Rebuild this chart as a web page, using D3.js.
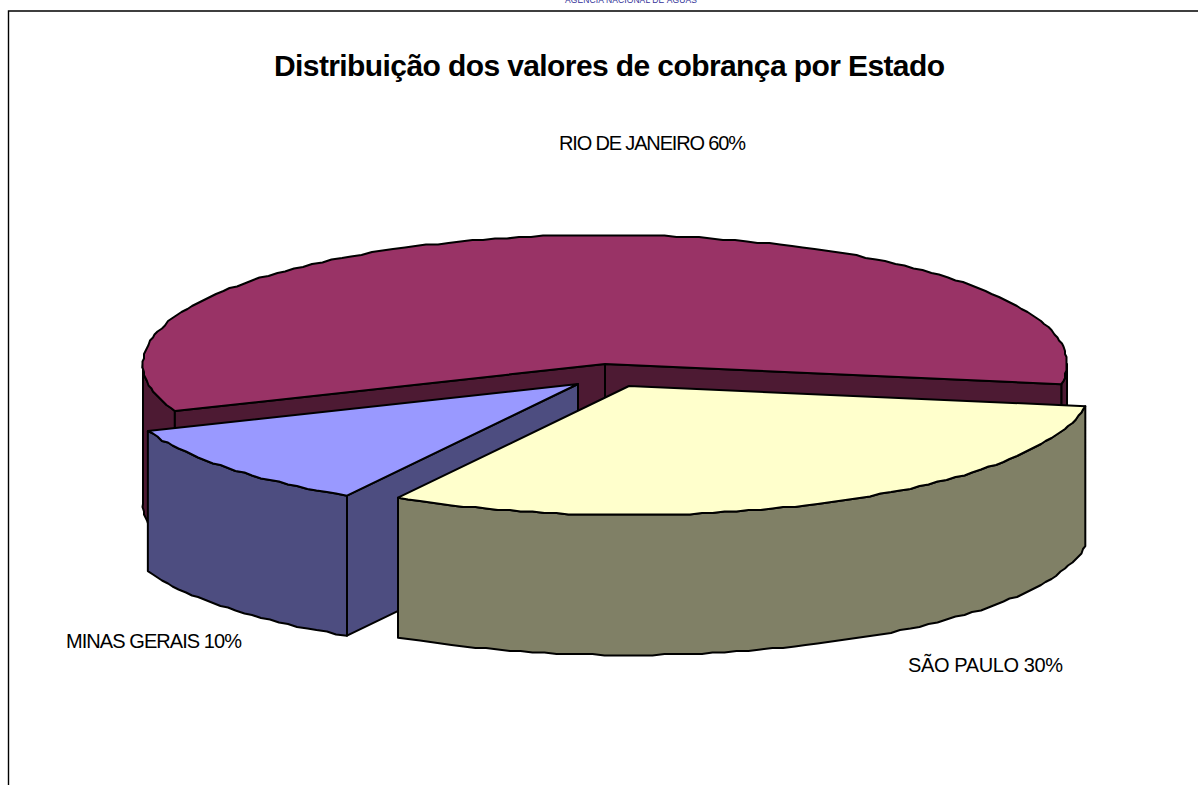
<!DOCTYPE html>
<html>

<head>
    <meta charset="utf-8">
    <title>Distribuição dos valores de cobrança por Estado</title>
    <style>
    body {
        margin: 0;
        background: #fff;
        overflow: hidden;
    }

    svg text {
        font-family: "Liberation Sans", Arial, sans-serif;
        fill: #000;
    }

    path.face {
        stroke: #000;
        stroke-width: 2;
        stroke-linejoin: round;
    }
    </style>
</head>

<body>
    <svg id="chart" width="1198" height="785"></svg>
    <script src="https://d3js.org/d3.v7.min.js"></script>
    <script>
    var estados = ['SÃO PAULO', 'MINAS GERAIS', 'RIO DE JANEIRO'];
    var percentuais = [30, 10, 60];

    var svg = d3.select('svg#chart');

    // colours of top and side of each slice
    var topo = { 'SÃO PAULO': '#FFFFCC', 'MINAS GERAIS': '#9999FF', 'RIO DE JANEIRO': '#993366' };
    var lado = { 'SÃO PAULO': '#808066', 'MINAS GERAIS': '#4D4D80', 'RIO DE JANEIRO': '#4D1A33' };

    // pie centre per slice (two of them are pulled out)
    var centro = {
        'SÃO PAULO': [629, 386],
        'MINAS GERAIS': [578, 384],
        'RIO DE JANEIRO': [605, 364]
    };

    var rotulo = {
        'SÃO PAULO': [908, 672, 155],
        'MINAS GERAIS': [66, 648, 176],
        'RIO DE JANEIRO': [559, 150, 187]
    };

    var rx = 462, ry = 129, depth = 140, grid = 1.5;

    // the old 3d pie squeezes the angles a bit, so pie angles go through this
    var deg = d3.scaleLinear()
        .domain([0, 108, 144, 360])
        .range([9, 120, 158.6, 369]);

    var pie = d3.pie().sort(null).value(function(d) { return d.valor; })
        .startAngle(0).endAngle(2 * Math.PI);

    var fatias = pie(estados.map(function(e, i) { return { estado: e, valor: percentuais[i] }; }));

    var line = d3.line();

    function ponto(c, t, dy) {
        var r = t * Math.PI / 180;
        return [c[0] + rx * Math.cos(r), c[1] + ry * Math.sin(r) + (dy || 0)];
    }

    // arc as a coarse polyline, snapped to a grid like the low-res original
    function arco(c, t0, t1, dy) {
        var n = Math.max(2, Math.round(Math.abs(t1 - t0) / 1.5));
        return d3.range(n + 1).map(function(i) {
            var p = ponto(c, t0 + (t1 - t0) * i / n, dy);
            if (i == 0 || i == n) return p;
            return [Math.round(p[0] / grid) * grid, Math.round(p[1] / grid) * grid];
        });
    }

    function face(g, pts, cor) {
        g.append('path')
            .attr('class', 'face')
            .attr('d', line(pts) + 'Z')
            .attr('fill', cor);
    }

    function parede(g, c, t0, t1, cor) {
        face(g, arco(c, t0, t1).concat(arco(c, t1, t0, depth)), cor);
    }

    function corte(g, c, t, cor) {
        var p = ponto(c, t);
        face(g, [c, p, [p[0], p[1] + depth], [c[0], c[1] + depth]], cor);
    }

    function desenha(f) {
        var e = f.data.estado;
        var c = centro[e];
        var t0 = deg(f.startAngle * 180 / Math.PI);
        var t1 = deg(f.endAngle * 180 / Math.PI);
        var g = svg.append('g').attr('class', 'fatia');

        if (e == 'RIO DE JANEIRO') {
            // only the ends of the back slice have a visible rim
            parede(g, c, t0, 180, lado[e]);
            parede(g, c, 360, t1, lado[e]);
            corte(g, c, t0, lado[e]);
            corte(g, c, t1, lado[e]);
        } else if (e == 'MINAS GERAIS') {
            corte(g, c, t0, lado[e]);
            parede(g, c, t0, t1, lado[e]);
        } else {
            parede(g, c, t0, t1, lado[e]);
        }
        face(g, [c].concat(arco(c, t0, t1)), topo[e]);
    }

    // back to front
    desenha(fatias[2]);
    desenha(fatias[1]);
    desenha(fatias[0]);

    // page frame
    svg.append('path')
        .attr('d', 'M8.5,785V11H1198')
        .attr('fill', 'none')
        .attr('stroke', '#000')
        .attr('stroke-width', 1.4);

    // header of the page behind the chart, cut by the top edge in the original too
    svg.append('text')
        .attr('x', 631)
        .attr('y', 3)
        .attr('text-anchor', 'middle')
        .attr('textLength', 132)
        .style('font-size', '8.5px')
        .style('fill', '#333399')
        .text('AGÊNCIA NACIONAL DE ÁGUAS');

    svg.append('text')
        .attr('x', 274)
        .attr('y', 76)
        .attr('textLength', 671)
        .style('font-size', '30px')
        .style('font-weight', 'bold')
        .text('Distribuição dos valores de cobrança por Estado');

    fatias.forEach(function(f, i) {
        var r = rotulo[f.data.estado];
        svg.append('text')
            .attr('x', r[0])
            .attr('y', r[1])
            .attr('textLength', r[2])
            .attr('lengthAdjust', 'spacing')
            .style('font-size', '20px')
            .text(f.data.estado + ' ' + percentuais[i] + '%');
    });
    </script>
</body>

</html>
